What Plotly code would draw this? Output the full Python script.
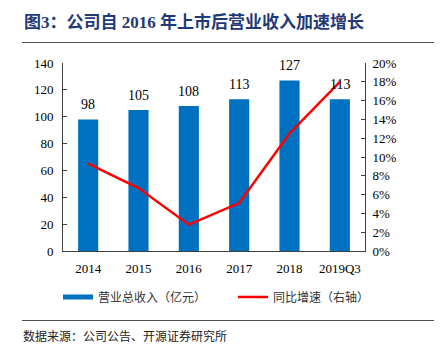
import plotly.graph_objects as go

categories = ["2014", "2015", "2016", "2017", "2018", "2019Q3"]
revenue = [98, 105, 108, 113, 127, 113]
growth = [9.3, 6.7, 2.8, 5.1, 12.5, 18.0]
left_ticks = [0, 20, 40, 60, 80, 100, 120, 140]
right_ticks = [0, 2, 4, 6, 8, 10, 12, 14, 16, 18, 20]

BLUE = "#0070C0"
RED = "#FF0000"
SERIF = "Liberation Serif, Times New Roman, serif"
CJK = "Noto Sans CJK SC"
W, H = 441, 357

def px_x(p):
    return p / W

def px_y(p):
    return 1 - p / H

fig = go.Figure()
fig.add_trace(go.Bar(
    x=categories, y=revenue, marker=dict(color=BLUE, line=dict(width=0)),
    showlegend=False, xaxis="x", yaxis="y",
))
fig.add_trace(go.Scatter(
    x=categories, y=growth, mode="lines", line=dict(color=RED, width=2.5),
    showlegend=False, xaxis="x", yaxis="y2",
))
# legend entries
fig.add_trace(go.Scatter(x=[None], y=[None], mode="lines", xaxis="x", yaxis="y",
                         line=dict(color=BLUE, width=5), name="营业总收入（亿元）"))
fig.add_trace(go.Scatter(x=[None], y=[None], mode="lines", xaxis="x", yaxis="y2",
                         line=dict(color=RED, width=2.5), name="同比增速（右轴）"))

# value labels above bars (category index positions on the x axis)
for i, v in enumerate(revenue):
    fig.add_annotation(x=i, y=v, xref="x", yref="y", text=str(v), showarrow=False,
                       yanchor="bottom", yshift=5,
                       font=dict(family=SERIF, size=14, color="#000"))

fig.update_layout(
    width=W, height=H,
    margin=dict(l=0, r=0, t=0, b=0, autoexpand=False),
    paper_bgcolor="white", plot_bgcolor="rgba(0,0,0,0)",
    bargap=0.6,
    xaxis=dict(type="category", categoryorder="array", categoryarray=categories,
               range=[-0.5, len(categories) - 0.5],
               domain=[px_x(63), px_x(365)], anchor="y", showline=True,
               linecolor="#404040", linewidth=1,
               ticks="", tickfont=dict(family=SERIF, size=13, color="#000"),
               ticklabelstandoff=5, showgrid=False, zeroline=False, automargin=False),
    yaxis=dict(range=[0, 140], domain=[px_y(251), px_y(63)], anchor="x", tickvals=left_ticks,
               showline=True, linecolor="#404040",
               linewidth=1, ticks="inside", ticklen=4, tickcolor="#404040",
               showgrid=False, zeroline=False, ticklabelstandoff=6, automargin=False,
               tickfont=dict(family=SERIF, size=13, color="#000")),
    yaxis2=dict(range=[0, 20], tickvals=right_ticks,
                ticktext=[f"{t}%" for t in right_ticks],
                overlaying="y", side="right", anchor="x", showline=True, linecolor="#404040",
                linewidth=1, ticks="inside", ticklen=4, tickcolor="#404040",
                showgrid=False, zeroline=False, ticklabelstandoff=4, automargin=False,
                tickfont=dict(family=SERIF, size=13, color="#000")),
    legend=dict(orientation="h", x=px_x(58), y=px_y(297), xanchor="left", yanchor="middle",
                font=dict(family=CJK, size=12, color="#333"),
                bgcolor="rgba(0,0,0,0)",
                itemwidth=30, entrywidth=130, tracegroupgap=0),
    showlegend=True,
)

# rule lines above and below the chart, drawn as thin filled annotation boxes
for ry in (42, 320):
    fig.add_annotation(xref="paper", yref="paper", x=px_x(22), y=px_y(ry),
                       xanchor="left", yanchor="middle", showarrow=False,
                       text=" ", font=dict(size=1), width=412, height=1,
                       borderpad=0, borderwidth=0, bgcolor="#505050")

# title and source
fig.add_annotation(xref="paper", yref="paper", x=px_x(22), y=px_y(22), xanchor="left",
                   yanchor="middle", showarrow=False,
                   text="<b>图3：公司自 2016 年上市后营业收入加速增长</b>",
                   font=dict(family="Liberation Serif, Noto Sans CJK SC", size=17, color="#1F3A78"))
fig.add_annotation(xref="paper", yref="paper", x=px_x(21), y=px_y(335), xanchor="left",
                   yanchor="middle", showarrow=False,
                   text="数据来源：公司公告、开源证券研究所",
                   font=dict(family=CJK, size=12, color="#222"))

fig.write_html("out.html", config={"displayModeBar": False},
               post_script="document.body.style.margin='0';")
